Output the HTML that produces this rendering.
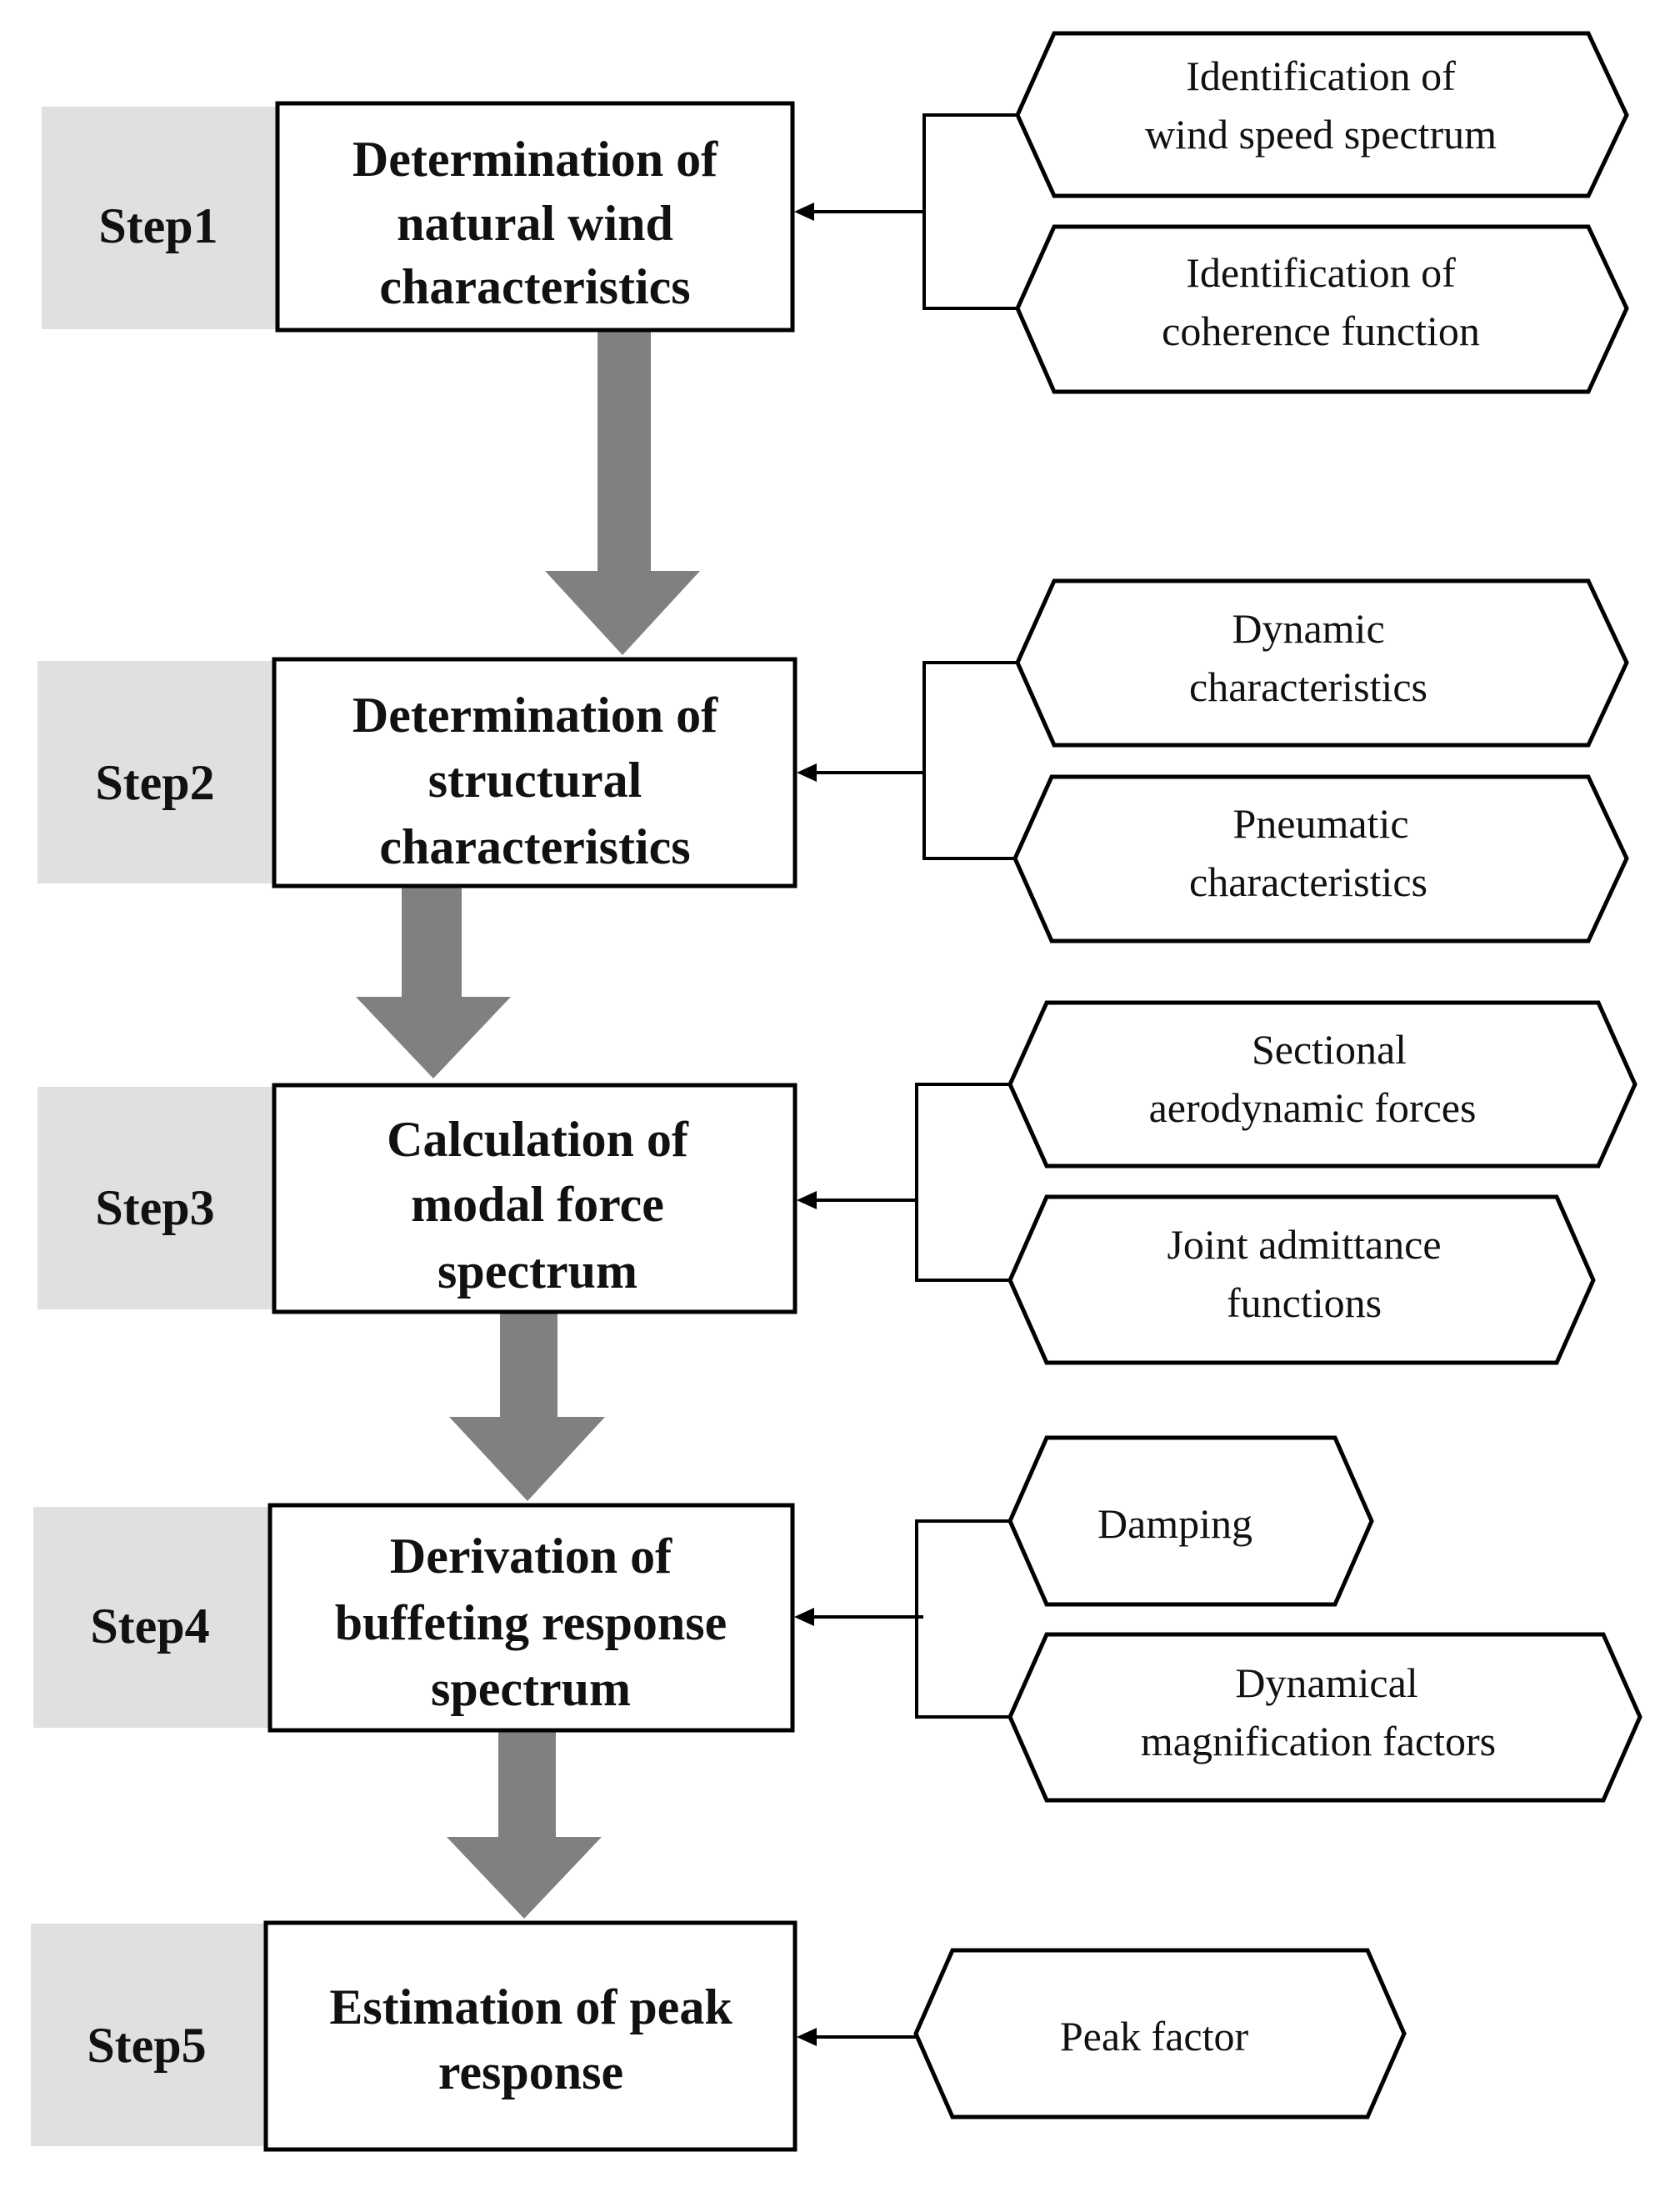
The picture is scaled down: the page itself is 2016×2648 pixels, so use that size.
<!DOCTYPE html>
<html><head><meta charset="utf-8"><style>html,body{margin:0;padding:0;background:#fff}svg{display:block}</style></head>
<body>
<svg width="2016" height="2648" viewBox="0 0 2016 2648" xmlns="http://www.w3.org/2000/svg" font-family="Liberation Serif, serif">
<g fill="#e0e0e0">
<rect x="50" y="128" width="283" height="267"/>
<rect x="45" y="793" width="284" height="267"/>
<rect x="45" y="1304" width="284" height="267"/>
<rect x="40" y="1808" width="284" height="265"/>
<rect x="37" y="2308" width="282" height="267"/>
</g>
<g fill="#808080">
<polygon points="717,396 781,396 781,685 840,685 747,786 654,685 717,685"/>
<polygon points="482,1063 554,1063 554,1196 613,1196 520,1294 427,1196 482,1196"/>
<polygon points="600,1574 669,1574 669,1700 726,1700 633,1801 539,1700 600,1700"/>
<polygon points="598,2078 667,2078 667,2204 722,2204 629,2302 536,2204 598,2204"/>
</g>
<g fill="#fff" stroke="#000" stroke-width="5">
<rect x="333" y="124" width="618" height="272"/>
<rect x="329" y="791" width="625" height="272"/>
<rect x="329" y="1302" width="625" height="272"/>
<rect x="324" y="1806" width="627" height="270"/>
<rect x="319" y="2307" width="635" height="272"/>
<polygon points="1221,138 1265,40 1906,40 1952,138 1906,235 1265,235"/>
<polygon points="1221,370 1265,272 1906,272 1952,370 1906,470 1265,470"/>
<polygon points="1221,795 1265,697 1906,697 1952,795 1906,894 1265,894"/>
<polygon points="1218,1030 1262,932 1906,932 1952,1030 1906,1129 1262,1129"/>
<polygon points="1212,1301 1256,1203 1918,1203 1962,1301 1918,1399 1256,1399"/>
<polygon points="1212,1536 1256,1436 1868,1436 1912,1536 1868,1635 1256,1635"/>
<polygon points="1212,1825 1256,1725 1602,1725 1646,1825 1602,1925 1256,1925"/>
<polygon points="1212,2060 1256,1961 1924,1961 1968,2060 1924,2160 1256,2160"/>
<polygon points="1099,2440 1143,2340 1641,2340 1685,2440 1641,2540 1143,2540"/>
</g>
<g fill="none" stroke="#000" stroke-width="4">
<polyline points="1221,138 1109,138 1109,370 1221,370"/>
<line x1="1109" y1="254" x2="965" y2="254"/>
<polyline points="1221,795 1109,795 1109,1030 1218,1030"/>
<line x1="1109" y1="927" x2="968" y2="927"/>
<polyline points="1212,1301 1100,1301 1100,1536 1212,1536"/>
<line x1="1100" y1="1440" x2="968" y2="1440"/>
<polyline points="1212,1825 1100,1825 1100,2060 1212,2060"/>
<line x1="1108" y1="1940" x2="965" y2="1940"/>
<line x1="1099" y1="2444" x2="968" y2="2444"/>
</g>
<g fill="#000">
<polygon points="953,254 977,243 977,265"/>
<polygon points="956,927 980,916 980,938"/>
<polygon points="956,1440 980,1429 980,1451"/>
<polygon points="953,1940 977,1929 977,1951"/>
<polygon points="956,2444 980,2433 980,2455"/>
</g>
<g font-weight="bold" font-size="60" text-anchor="middle" fill="#111">
<text x="190" y="291">Step1</text>
<text x="186" y="959">Step2</text>
<text x="186" y="1469">Step3</text>
<text x="180" y="1971">Step4</text>
<text x="176" y="2474">Step5</text>
</g>
<g font-weight="bold" font-size="60" text-anchor="middle" fill="#111">
<text x="642" y="211">Determination of</text>
<text x="642" y="288">natural wind</text>
<text x="642" y="364">characteristics</text>
<text x="642" y="878">Determination of</text>
<text x="642" y="956">structural</text>
<text x="642" y="1036">characteristics</text>
<text x="645" y="1387">Calculation of</text>
<text x="645" y="1465">modal force</text>
<text x="645" y="1545">spectrum</text>
<text x="637" y="1887">Derivation of</text>
<text x="637" y="1967">buffeting response</text>
<text x="637" y="2046">spectrum</text>
<text x="637" y="2428">Estimation of peak</text>
<text x="637" y="2506">response</text>
</g>
<g font-size="50" text-anchor="middle" fill="#111">
<text x="1585" y="108">Identification  of</text>
<text x="1585" y="178">wind speed spectrum</text>
<text x="1585" y="344">Identification  of</text>
<text x="1585" y="414">coherence function</text>
<text x="1570" y="771">Dynamic</text>
<text x="1570" y="841">characteristics</text>
<text x="1585" y="1005">Pneumatic</text>
<text x="1570" y="1075">characteristics</text>
<text x="1595" y="1276">Sectional</text>
<text x="1575" y="1346">aerodynamic  forces</text>
<text x="1565" y="1510">Joint admittance</text>
<text x="1565" y="1580">functions</text>
<text x="1410" y="1845">Damping</text>
<text x="1592" y="2036">Dynamical</text>
<text x="1582" y="2106">magnification  factors</text>
<text x="1385" y="2460">Peak factor</text>
</g>
</svg>
</body></html>
